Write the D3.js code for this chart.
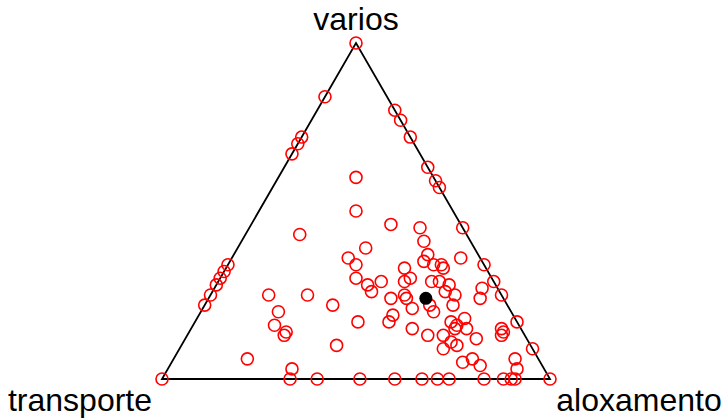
<!DOCTYPE html>
<html>
<head>
<meta charset="utf-8">
<script src="https://cdn.jsdelivr.net/npm/d3@7"></script>
<style>
  html, body { margin: 0; padding: 0; background: #fff; }
  svg { display: block; }
</style>
</head>
<body>
<svg id="chart" width="723" height="419"></svg>
<script>
// Parts of the composition (vertex labels)
const parts = ["transporte", "aloxamento", "varios"];

// Composition of each observation (percent)
const transporte = [
  0, 100, 0,
  16, 28, 30, 33, 66, 68, 70, 72, 75, 78,
  0, 0, 0, 0, 0, 0, 0, 0, 0, 0, 0, 0,
  67, 60, 49, 40, 33, 29, 26, 17, 12, 10, 9,
  20, 25, 18, 43, 11, 12, 28, 34, 33, 13, 5, 15, 21, 13, 11, 11, 35, 33, 33, 29,
  23, 21, 16, 14, 12, 14, 12, 4, 6, 60, 50, 45, 60, 63, 61, 62, 50, 75, 65, 29,
  25, 25, 25, 20, 20, 14, 31, 33, 41, 28, 25, 17, 16, 17, 13, 14, 13, 21, 23, 20,
  19, 20, 17, 16, 5, 5, 6, 6, 7
];
const aloxamento = [
  0, 0, 100,
  0, 0, 0, 0, 0, 0, 0, 0, 0, 0,
  20, 23, 28, 37, 41, 43, 55, 66, 71, 75, 83, 91,
  33, 40, 51, 60, 67, 71, 74, 83, 88, 90, 91,
  20, 25, 36, 14, 44, 47, 33, 30, 33, 50, 59, 50, 46, 53, 55, 56, 35, 39, 41, 42,
  48, 49, 55, 57, 60, 60, 63, 69, 70, 15, 25, 33, 20, 21, 25, 25, 40, 19, 32, 47,
  50, 51, 54, 58, 60, 64, 50, 50, 42, 57, 62, 66, 68, 68, 69, 71, 75, 66, 68, 69,
  71, 75, 77, 80, 80, 81, 81, 88, 90
];
const varios = [
  100, 0, 0,
  84, 72, 70, 67, 34, 32, 30, 28, 25, 22,
  80, 77, 72, 63, 59, 57, 45, 34, 29, 25, 17, 9,
  0, 0, 0, 0, 0, 0, 0, 0, 0, 0, 0,
  60, 50, 46, 43, 45, 41, 39, 36, 34, 37, 36, 35, 33, 34, 34, 33, 30, 28, 26, 29,
  29, 30, 29, 29, 28, 26, 25, 27, 24, 25, 25, 22, 20, 16, 14, 13, 10, 6, 3, 24,
  25, 24, 21, 22, 20, 22, 19, 17, 17, 15, 13, 17, 16, 15, 18, 15, 12, 13, 9, 11,
  10, 5, 6, 4, 15, 14, 13, 6, 3
];

// Centre of the data (black dot)
const centre = [20, 56, 24];

const svg = d3.select("#chart");

// Cartesian scales of the ternary diagram
const W = 388;
const H = W * Math.sqrt(3) / 2;
const xScale = d3.scaleLinear().domain([0, 1]).range([162, 162 + W]);
const yScale = d3.scaleLinear().domain([0, 1]).range([379, 379 - H]);

function project(t, a, v) {
  const s = t + a + v;
  const aa = a / s, vv = v / s;
  return [xScale(aa + vv / 2), yScale(vv)];
}

const data = transporte.map((t, i) => ({ t: t, a: aloxamento[i], v: varios[i] }));

// Triangle
const corners = [project(1, 0, 0), project(0, 1, 0), project(0, 0, 1)];
svg.append("path")
  .attr("d", d3.line()(corners) + "Z")
  .attr("fill", "none")
  .attr("stroke", "#000")
  .attr("stroke-width", 1.8)
  .attr("stroke-linejoin", "miter");

// Points
svg.append("g")
  .selectAll("circle")
  .data(data)
  .join("circle")
  .attr("cx", d => project(d.t, d.a, d.v)[0])
  .attr("cy", d => project(d.t, d.a, d.v)[1])
  .attr("r", 6)
  .attr("fill", "none")
  .attr("stroke", "#ff0000")
  .attr("stroke-width", 1.6);

// Centre
const c = project(centre[0], centre[1], centre[2]);
svg.append("circle")
  .attr("cx", c[0]).attr("cy", c[1])
  .attr("r", 6.5)
  .attr("fill", "#000");

// Vertex labels
const font = "'Liberation Sans', Arial, sans-serif";
svg.append("text").text(parts[0])
  .attr("x", corners[0][0] - 82).attr("y", 411)
  .attr("text-anchor", "middle")
  .attr("font-family", font).attr("font-size", 32);
svg.append("text").text(parts[1])
  .attr("x", corners[1][0] + 89).attr("y", 411)
  .attr("text-anchor", "middle")
  .attr("font-family", font).attr("font-size", 32);
svg.append("text").text(parts[2])
  .attr("x", corners[2][0]).attr("y", 30)
  .attr("text-anchor", "middle")
  .attr("font-family", font).attr("font-size", 32);
</script>
</body>
</html>
